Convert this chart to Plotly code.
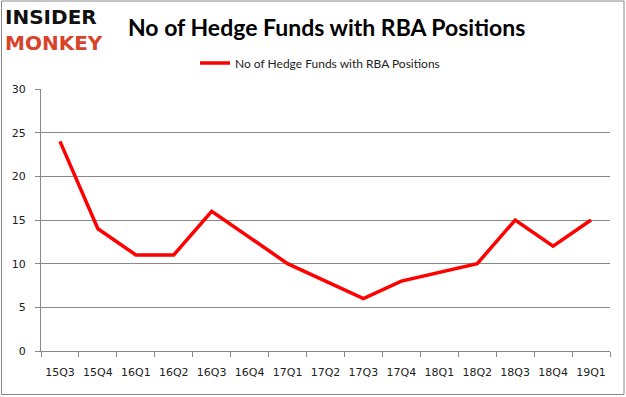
import plotly.graph_objects as go

quarters = ["15Q3", "15Q4", "16Q1", "16Q2", "16Q3", "16Q4", "17Q1", "17Q2",
            "17Q3", "17Q4", "18Q1", "18Q2", "18Q3", "18Q4", "19Q1"]
hedge_funds = [24, 14, 11, 11, 16, 13, 10, 8, 6, 8, 9, 10, 15, 12, 15]
y_ticks = [0, 5, 10, 15, 20, 25, 30]

series_name = "No of Hedge Funds with RBA Positions"

fig = go.Figure()
fig.add_trace(go.Scatter(
    x=quarters, y=hedge_funds, mode="lines", name=series_name,
    line=dict(color="#ff0000", width=3.5),
))

W, H = 626, 397
ml, mr, mt, mb = 41, 16, 89, 46
pw, ph = W - ml - mr, H - mt - mb

def px(x):
    return (x - ml) / pw

def py(y):
    return (H - mb - y) / ph

fig.update_layout(
    width=W, height=H,
    margin=dict(l=ml, r=mr, t=mt, b=mb, autoexpand=False),
    paper_bgcolor="white", plot_bgcolor="white",
    showlegend=True,
    legend=dict(orientation="h", x=px(195), xanchor="left", y=py(63), yanchor="middle",
                font=dict(family="Lato", size=12, color="#222"),
                bgcolor="rgba(0,0,0,0)"),
    xaxis=dict(
        type="category", range=[-0.5, len(quarters) - 0.5], automargin=False,
        tickson="boundaries", ticks="outside", ticklen=5, tickangle=0,
        tickcolor="#888", showline=True, linecolor="#888", linewidth=1,
        showgrid=False, tickfont=dict(family="DejaVu Sans", size=11, color="#222"),
        ticklabelstandoff=11,
    ),
    yaxis=dict(
        range=[0, 30], tickvals=y_ticks, ticks="outside", ticklen=5, automargin=False,
        tickcolor="#888", showline=True, linecolor="#888", linewidth=1,
        showgrid=True, gridcolor="#888", gridwidth=1, zeroline=False,
        tickfont=dict(family="DejaVu Sans", size=11, color="#222"),
        ticklabelstandoff=7,
    ),
    annotations=[
        dict(text="<b>" + series_name + "</b>", x=px(326), y=py(27), xref="paper", yref="paper",
             xanchor="center", yanchor="middle", showarrow=False,
             font=dict(family="Lato", size=23, color="#000")),
        dict(text="<b>INSIDER</b><br><b><span style='color:#d8432b'>MONKEY</span></b>",
             x=px(3), y=py(30), xref="paper", yref="paper", align="left",
             xanchor="left", yanchor="middle", showarrow=False,
             font=dict(family="DejaVu Sans", size=20, color="#111")),
    ],
    shapes=[
        dict(type="rect", xref="paper", yref="paper", x0=px(1.5), x1=px(624), y0=py(1), y1=py(394.5),
             line=dict(color="#888", width=1), fillcolor="rgba(0,0,0,0)", layer="below"),
    ],
)

fig.write_html("out.html", config={"displayModeBar": False},
               post_script="document.body.style.margin='0';document.body.style.overflow='hidden';")
